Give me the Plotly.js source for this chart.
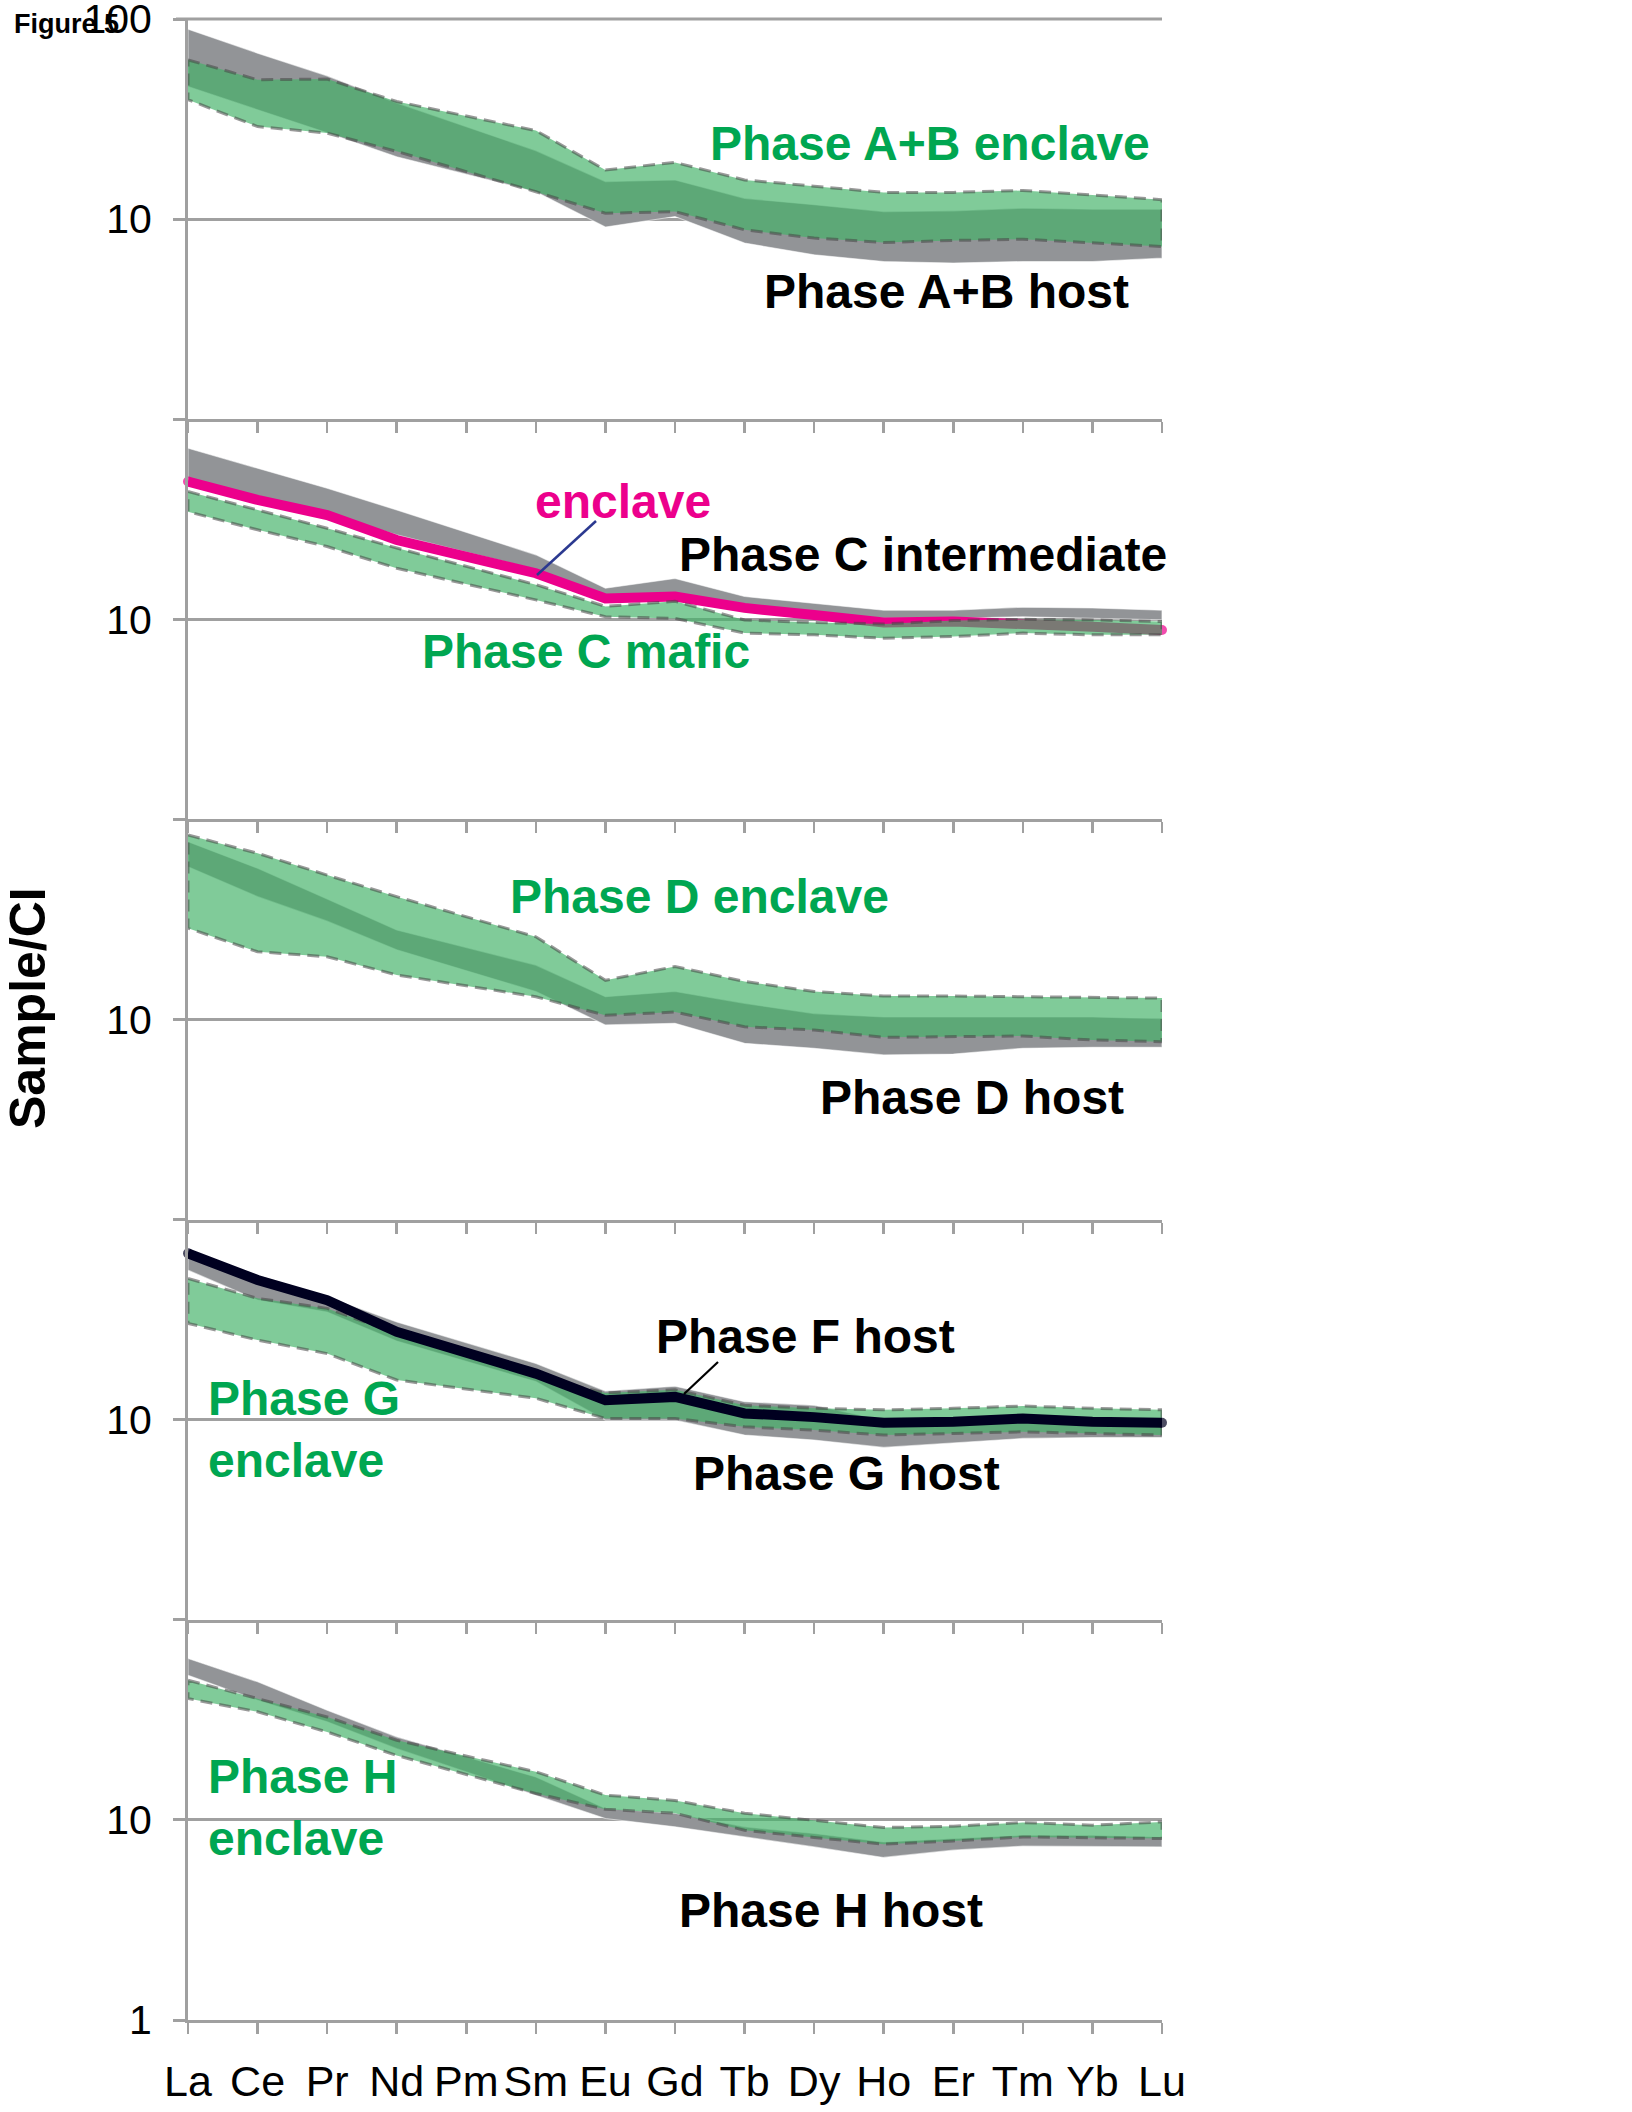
<!DOCTYPE html>
<html>
<head>
<meta charset="utf-8">
<script src="https://cdn.plot.ly/plotly-3.0.1.min.js"></script>
<style>
  html, body { margin: 0; padding: 0; background: #ffffff; }
  #chart { width: 1632px; height: 2112px; }
</style>
</head>
<body>
<div id="chart"></div>
<script>
// Rare earth element order along the x axis (Pm is not analysed)
const ELEMENTS = ['La','Ce','Pr','Nd','Pm','Sm','Eu','Gd','Tb','Dy','Ho','Er','Tm','Yb','Lu'];
const MEASURED = ['La','Ce','Pr','Nd','Sm','Eu','Gd','Tb','Dy','Ho','Er','Tm','Yb','Lu'];

// Chondrite-normalised ranges (Sample/CI), one value per MEASURED element
// Phase A+B
const abHostHi  = [89.0, 67.5, 52.0, 38.1, 22.0, 15.4, 15.7, 12.7, 11.8, 10.9, 11.0, 11.35, 11.2, 11.2];
const abHostLo  = [46.0, 35.2, 27.0, 20.5, 13.7, 9.12, 10.3, 7.59, 6.63, 6.14, 6.03, 6.14, 6.14, 6.38];
const abEnclHi  = [62.5, 49.7, 50.1, 38.7, 27.7, 17.6, 19.2, 15.7, 14.6, 13.6, 13.6, 13.9, 13.2, 12.5];
const abEnclLo  = [39.5, 29.0, 26.9, 21.8, 13.7, 10.7, 10.9, 8.84, 8.04, 7.64, 7.82, 7.94, 7.59, 7.30];
// Phase C
const cInterHi  = [71.6, 56.9, 45.2, 35.2, 21.0, 14.3, 16.0, 13.0, 12.0, 11.1, 11.1, 11.5, 11.4, 11.1];
const cInterLo  = [50.7, 41.0, 33.2, 26.4, 17.7, 12.5, 13.2, 11.4, 10.7, 10.1, 10.1, 10.3, 10.1, 9.93];
const cEnclave  = [48.8, 39.5, 33.2, 24.9, 17.0, 12.7, 13.0, 11.4, 10.5, 9.63, 9.74, 9.56, 9.19, 8.85];
const cMaficHi  = [43.5, 35.2, 28.5, 22.7, 14.9, 11.6, 12.3, 9.93, 9.63, 9.48, 9.85, 10.0, 9.93, 9.74];
const cMaficLo  = [34.5, 28.0, 23.1, 18.0, 12.5, 10.3, 10.1, 8.53, 8.36, 8.05, 8.20, 8.53, 8.36, 8.36];
// Phase D
const dEnclHi   = [83.6, 67.7, 52.7, 41.1, 25.9, 15.7, 18.4, 15.5, 13.8, 13.1, 13.1, 13.0, 12.9, 12.8];
const dEnclLo   = [28.6, 21.8, 20.6, 16.7, 13.0, 10.5, 10.9, 9.20, 8.86, 8.15, 8.20, 8.27, 7.90, 7.75];
const dHostHi   = [77.4, 57.0, 40.0, 28.0, 18.7, 13.0, 13.8, 12.05, 10.7, 10.3, 10.3, 10.3, 10.3, 10.1];
const dHostLo   = [58.0, 41.1, 31.0, 22.3, 13.8, 9.39, 9.57, 7.60, 7.18, 6.65, 6.72, 7.18, 7.26, 7.26];
// Phase F and G
const fHost     = [67.8, 49.9, 39.6, 27.5, 17.0, 12.5, 13.0, 10.75, 10.3, 9.65, 9.76, 10.15, 9.76, 9.65];
const gHostHi   = [70.4, 52.8, 41.1, 30.8, 19.1, 13.9, 14.7, 12.3, 11.8, 9.95, 9.95, 10.3, 9.95, 9.95];
const gHostLo   = [55.9, 39.6, 34.5, 24.7, 15.5, 9.95, 9.95, 8.38, 7.91, 7.27, 7.66, 8.06, 8.15, 8.15];
const gEnclHi   = [50.8, 40.4, 36.0, 27.0, 16.4, 13.6, 14.1, 11.8, 11.4, 11.2, 11.4, 11.7, 11.4, 11.2];
const gEnclLo   = [30.3, 25.0, 21.4, 15.8, 12.8, 10.15, 10.15, 9.21, 8.87, 8.38, 8.54, 8.70, 8.54, 8.38];
// Phase H
const hHostHi   = [64.1, 49.0, 35.3, 26.0, 16.4, 11.4, 10.8, 9.23, 8.55, 7.76, 8.07, 8.39, 8.39, 8.22];
const hHostLo   = [52.8, 39.6, 30.9, 22.7, 13.3, 10.16, 9.23, 8.22, 7.33, 6.49, 7.06, 7.39, 7.33, 7.33];
const hEnclHi   = [49.9, 40.4, 32.7, 25.0, 17.4, 13.3, 12.5, 10.8, 9.97, 9.16, 9.30, 9.70, 9.41, 9.77];
const hEnclLo   = [40.4, 34.7, 27.5, 21.0, 13.55, 11.3, 10.8, 8.88, 8.17, 7.56, 7.85, 8.22, 8.17, 8.07];

// Y tick labels shown on each of the five stacked panels
const Y_TICKS = [1, 10, 100];
const Y_TICKTEXT = [
  ['', '10', '100'],
  ['', '10', ''],
  ['', '10', ''],
  ['', '10', ''],
  ['1', '10', '']
];

// ---- styling ----
const W = 1632, H = 2112;
const M = { l: 188, r: 470, t: 19, b: 92 };
const PW = W - M.l - M.r, PH = H - M.t - M.b;
const px = x => (x - M.l) / PW;
const py = y => (H - M.b - y) / PH;

const AXIS = '#a0a0a0';
const GRAY_FILL = '#929497';
const GRAY_EDGE = 'rgba(255,255,255,0.55)';
const GREEN_FILL = 'rgba(68,178,105,0.68)';
const DASH_EDGE = 'rgba(70,70,70,0.55)';
const GREEN_TXT = '#00a651';
const MAGENTA = '#ec008c';
const NAVY = '#000020';
const SANS = 'Liberation Sans, Arial, sans-serif';

const xs = MEASURED.map(e => ELEMENTS.indexOf(e));
const ax = k => ({ xaxis: k === 1 ? 'x' : 'x' + k, yaxis: k === 1 ? 'y' : 'y' + k });

function band(k, hi, lo, kind) {
  const x = xs.concat(xs.slice().reverse(), [xs[0]]);
  const y = hi.concat(lo.slice().reverse(), [hi[0]]);
  const isGreen = kind === 'green';
  return Object.assign({
    type: 'scatter', mode: 'lines', x, y, fill: 'toself',
    fillcolor: isGreen ? GREEN_FILL : GRAY_FILL,
    line: isGreen ? { color: DASH_EDGE, width: 3, dash: '12px,7px' }
                  : { color: GRAY_EDGE, width: 1.2 },
    hoverinfo: 'skip', showlegend: false
  }, ax(k));
}

function thickLine(k, vals, color, width) {
  const sizes = vals.map((_, i) => (i === 0 || i === vals.length - 1) ? width : 0);
  return Object.assign({
    type: 'scatter', mode: 'lines+markers', x: xs, y: vals,
    line: { color, width },
    marker: { color, size: sizes, line: { width: 0 } },
    cliponaxis: false, hoverinfo: 'skip', showlegend: false
  }, ax(k));
}

const traces = [
  band(1, abHostHi, abHostLo, 'gray'),
  band(1, abEnclHi, abEnclLo, 'green'),

  band(2, cInterHi, cInterLo, 'gray'),
  thickLine(2, cEnclave, MAGENTA, 10),
  band(2, cMaficHi, cMaficLo, 'green'),

  band(3, dHostHi, dHostLo, 'gray'),
  band(3, dEnclHi, dEnclLo, 'green'),

  band(4, gHostHi, gHostLo, 'gray'),
  band(4, gEnclHi, gEnclLo, 'green'),
  thickLine(4, fHost, NAVY, 10),

  band(5, hHostHi, hHostLo, 'gray'),
  band(5, hEnclHi, hEnclLo, 'green')
];

const layout = {
  width: W, height: H,
  margin: M,
  paper_bgcolor: '#ffffff', plot_bgcolor: 'rgba(0,0,0,0)',
  showlegend: false,
  font: { family: SANS, color: '#000000' },
  annotations: [], shapes: []
};

for (let k = 1; k <= 5; k++) {
  const xName = k === 1 ? 'xaxis' : 'xaxis' + k;
  const yName = k === 1 ? 'yaxis' : 'yaxis' + k;
  layout[xName] = {
    domain: [0, 1], anchor: k === 1 ? 'y' : 'y' + k,
    type: 'linear', range: [0, ELEMENTS.length - 1],
    tickmode: 'array', tickvals: ELEMENTS.map((_, i) => i), ticktext: ELEMENTS,
    showticklabels: k === 5, tickangle: 0,
    ticks: 'outside', ticklen: 11, tickwidth: 2.5, tickcolor: AXIS,
    ticklabelstandoff: 10, ticklabeloverflow: 'allow',
    tickfont: { family: SANS, size: 43, color: '#000000' },
    showline: true, linecolor: AXIS, linewidth: 3,
    showgrid: false, zeroline: false, fixedrange: true
  };
  layout[yName] = {
    domain: [1 - 0.2 * k, 1 - 0.2 * (k - 1)], anchor: k === 1 ? 'x' : 'x' + k,
    type: 'log', range: [0, 2],
    tickmode: 'array', tickvals: Y_TICKS, ticktext: Y_TICKTEXT[k - 1],
    ticks: 'outside', ticklen: 12, tickwidth: 3, tickcolor: AXIS,
    ticklabelstandoff: 13, ticklabeloverflow: 'allow',
    tickfont: { family: SANS, size: 41, color: '#000000' },
    showline: true, linecolor: AXIS, linewidth: 3,
    showgrid: true, gridcolor: AXIS, gridwidth: 3,
    zeroline: false, fixedrange: true
  };
}

// Panel labels
function label(text, color, xLeft, yMid) {
  return {
    text, xref: 'paper', yref: 'paper', x: px(xLeft), y: py(yMid),
    xanchor: 'left', yanchor: 'middle', align: 'left', showarrow: false,
    font: { family: SANS, size: 48, color }
  };
}
layout.annotations.push(
  label('<b>Phase A+B enclave</b>', GREEN_TXT, 708, 144),
  label('<b>Phase A+B host</b>', '#000000', 762, 292),
  label('<b>enclave</b>', MAGENTA, 533, 501),
  label('<b>Phase C intermediate</b>', '#000000', 677, 554),
  label('<b>Phase C mafic</b>', GREEN_TXT, 420, 651),
  label('<b>Phase D enclave</b>', GREEN_TXT, 508, 896),
  label('<b>Phase D host</b>', '#000000', 818, 1097),
  label('<b>Phase F host</b>', '#000000', 654, 1337),
  label('<b>Phase G host</b>', '#000000', 691, 1473),
  label('<b>Phase G</b><br><b>enclave</b>', GREEN_TXT, 206, 1429),
  label('<b>Phase H</b><br><b>enclave</b>', GREEN_TXT, 206, 1807),
  label('<b>Phase H host</b>', '#000000', 677, 1910),
  {
    text: '<b>Figure 5</b>', xref: 'paper', yref: 'paper', x: px(12), y: py(24),
    xanchor: 'left', yanchor: 'middle', showarrow: false,
    font: { family: SANS, size: 27, color: '#000000' }
  },
  {
    text: '<b>Sample/CI</b>', xref: 'paper', yref: 'paper', x: px(28), y: py(1008),
    xanchor: 'center', yanchor: 'middle', textangle: -90, showarrow: false,
    font: { family: SANS, size: 50, color: '#000000' }
  }
);

// Top gridline at 100 on the first panel, including its outside tick
layout.shapes.push(
  { type: 'line', xref: 'paper', yref: 'paper', x0: px(176), x1: 1, y0: 1, y1: 1,
    line: { color: AXIS, width: 3 } }
);

// Leader lines from labels to their curves
layout.shapes.push(
  { type: 'line', xref: 'paper', yref: 'paper',
    x0: px(596), y0: py(521), x1: px(537), y1: py(575),
    line: { color: '#2b3990', width: 2.5 } },
  { type: 'line', xref: 'paper', yref: 'paper',
    x0: px(718), y0: py(1362), x1: px(684), y1: py(1394),
    line: { color: '#000000', width: 2.2 } }
);

Plotly.newPlot('chart', traces, layout, { displayModeBar: false, staticPlot: true });
</script>
</body>
</html>
